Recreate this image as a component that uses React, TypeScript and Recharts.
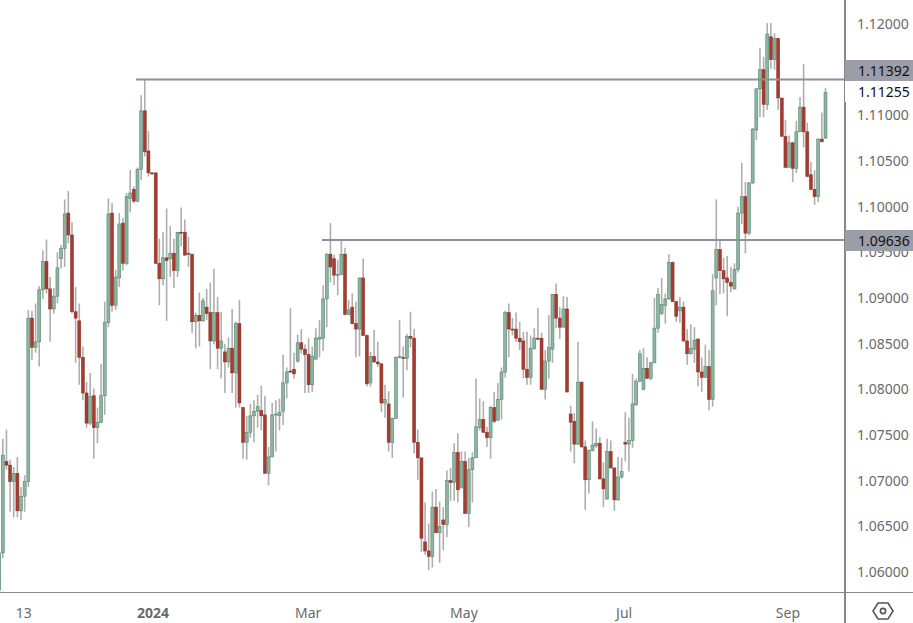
import React from 'react';
import { ComposedChart, Bar, XAxis, YAxis, ReferenceLine } from 'recharts';

const opens = [
  1.0580,1.0621,1.0721,1.0717,1.0699,1.0708,1.0667,1.0683,1.0699,1.0878,
  1.0846,1.0852,1.0909,1.0940,1.0910,1.0888,1.0902,1.0943,1.0954,1.0993,
  1.0969,1.0885,1.0875,1.0835,1.0796,1.0763,1.0793,1.0758,1.0764,1.0793,
  1.0873,1.0993,1.0892,1.0922,1.0982,1.0938,1.1009,1.1019,1.1006,1.1041,
  1.1105,1.1061,1.1037,1.1037,1.0938,1.0921,1.0944,1.0943,1.0949,1.0930,
  1.0972,1.0972,1.0949,1.0948,1.0874,1.0881,1.0875,1.0890,1.0884,1.0853,
  1.0884,1.0845,1.0841,1.0830,1.0845,1.0818,1.0872,1.0780,1.0742,1.0753,
  1.0771,1.0776,1.0777,1.0772,1.0708,1.0726,1.0772,1.0771,1.0776,1.0807,
  1.0820,1.0822,1.0831,1.0851,1.0844,1.0838,1.0805,1.0833,1.0855,1.0856,
  1.0899,1.0948,1.0943,1.0925,1.0926,1.0948,1.0882,1.0890,1.0872,1.0866,
  1.0922,1.0859,1.0807,1.0836,1.0830,1.0828,1.0785,1.0784,1.0742,1.0768,
  1.0835,1.0835,1.0834,1.0858,1.0856,1.0742,1.0725,1.0633,1.0623,1.0617,
  1.0671,1.0643,1.0657,1.0652,1.0700,1.0698,1.0731,1.0692,1.0721,1.0664,
  1.0712,1.0725,1.0758,1.0767,1.0753,1.0747,1.0780,1.0766,1.0789,1.0819,
  1.0884,1.0866,1.0866,1.0856,1.0853,1.0822,1.0813,1.0845,1.0856,1.0856,
  1.0800,1.0831,1.0844,1.0904,1.0878,1.0868,1.0888,1.0773,1.0765,1.0740,
  1.0808,1.0737,1.0701,1.0733,1.0738,1.0741,1.0702,1.0680,1.0732,1.0714,
  1.0679,1.0704,1.0742,1.0740,1.0744,1.0783,1.0809,1.0800,1.0823,1.0812,
  1.0829,1.0867,1.0883,1.0892,1.0899,1.0939,1.0896,1.0886,1.0890,1.0853,
  1.0839,1.0844,1.0855,1.0819,1.0813,1.0825,1.0789,1.0922,1.0953,1.0930,
  1.0922,1.0917,1.0910,1.0931,1.0993,1.1011,1.0971,1.1026,1.1084,1.1129,
  1.1150,1.1112,1.1186,1.1161,1.1184,1.1119,1.1077,1.1043,1.1070,1.1042,
  1.1082,1.1109,1.1082,1.1035,1.1019,1.1011,1.1074,1.1075,
];

const highs = [
  1.0622,1.0746,1.0756,1.0723,1.0715,1.0726,1.0693,1.0706,1.0887,1.0886,
  1.0894,1.0913,1.0952,1.0964,1.0923,1.0911,1.0950,1.0958,1.1008,1.1017,
  1.0983,1.0912,1.0894,1.0847,1.0808,1.0818,1.0801,1.0780,1.0828,1.0896,
  1.1009,1.1004,1.0931,1.0993,1.0988,1.1015,1.1040,1.1022,1.1043,1.1122,
  1.1140,1.1083,1.1038,1.1038,1.0965,1.0972,1.0998,1.0979,1.0965,1.0972,
  1.0999,1.0986,1.0967,1.0948,1.0884,1.0906,1.0900,1.0910,1.0917,1.0932,
  1.0901,1.0885,1.0850,1.0857,1.0888,1.0874,1.0898,1.0781,1.0771,1.0784,
  1.0788,1.0794,1.0804,1.0793,1.0737,1.0785,1.0788,1.0790,1.0838,1.0824,
  1.0889,1.0840,1.0860,1.0866,1.0849,1.0856,1.0847,1.0867,1.0876,1.0914,
  1.0949,1.0982,1.0947,1.0942,1.0964,1.0955,1.0898,1.0905,1.0896,1.0922,
  1.0943,1.0860,1.0841,1.0865,1.0852,1.0828,1.0805,1.0798,1.0769,1.0836,
  1.0876,1.0847,1.0861,1.0885,1.0866,1.0756,1.0725,1.0676,1.0653,1.0688,
  1.0691,1.0677,1.0671,1.0711,1.0714,1.0741,1.0752,1.0732,1.0732,1.0725,
  1.0731,1.0812,1.0790,1.0787,1.0759,1.0782,1.0797,1.0807,1.0824,1.0886,
  1.0894,1.0878,1.0884,1.0874,1.0863,1.0863,1.0859,1.0867,1.0889,1.0862,
  1.0843,1.0881,1.0904,1.0916,1.0890,1.0902,1.0901,1.0782,1.0774,1.0852,
  1.0808,1.0744,1.0734,1.0765,1.0757,1.0748,1.0720,1.0746,1.0744,1.0714,
  1.0726,1.0725,1.0775,1.0769,1.0817,1.0812,1.0843,1.0845,1.0835,1.0830,
  1.0900,1.0911,1.0922,1.0905,1.0948,1.0940,1.0897,1.0901,1.0896,1.0866,
  1.0871,1.0868,1.0856,1.0835,1.0849,1.0843,1.0926,1.1008,1.0963,1.0944,
  1.0946,1.0934,1.0938,1.1000,1.1048,1.1027,1.1027,1.1086,1.1130,1.1174,
  1.1164,1.1201,1.1201,1.1190,1.1185,1.1119,1.1095,1.1078,1.1071,1.1094,
  1.1120,1.1156,1.1092,1.1049,1.1040,1.1075,1.1103,1.1130,
];

const lows = [
  1.0578,1.0615,1.0712,1.0666,1.0660,1.0660,1.0657,1.0666,1.0693,1.0832,
  1.0840,1.0825,1.0899,1.0905,1.0852,1.0883,1.0894,1.0932,1.0934,1.0960,
  1.0883,1.0829,1.0805,1.0788,1.0758,1.0761,1.0724,1.0741,1.0763,1.0772,
  1.0868,1.0885,1.0887,1.0912,1.0930,1.0936,1.0994,1.1004,1.1005,1.1029,
  1.1055,1.1033,1.1035,1.0937,1.0892,1.0914,1.0875,1.0923,1.0911,1.0923,
  1.0957,1.0946,1.0934,1.0862,1.0845,1.0847,1.0874,1.0876,1.0822,1.0849,
  1.0822,1.0812,1.0796,1.0824,1.0796,1.0780,1.0780,1.0724,1.0723,1.0747,
  1.0742,1.0758,1.0755,1.0708,1.0695,1.0726,1.0732,1.0755,1.0761,1.0790,
  1.0818,1.0812,1.0829,1.0839,1.0796,1.0796,1.0797,1.0833,1.0835,1.0842,
  1.0868,1.0917,1.0914,1.0903,1.0925,1.0881,1.0881,1.0871,1.0835,1.0836,
  1.0858,1.0803,1.0803,1.0829,1.0825,1.0775,1.0769,1.0732,1.0725,1.0768,
  1.0834,1.0791,1.0821,1.0846,1.0730,1.0701,1.0622,1.0619,1.0602,1.0605,
  1.0643,1.0610,1.0624,1.0638,1.0678,1.0678,1.0676,1.0692,1.0664,1.0649,
  1.0676,1.0725,1.0755,1.0752,1.0737,1.0724,1.0763,1.0766,1.0767,1.0813,
  1.0835,1.0859,1.0852,1.0843,1.0812,1.0805,1.0805,1.0843,1.0854,1.0800,
  1.0789,1.0812,1.0829,1.0867,1.0855,1.0868,1.0797,1.0732,1.0719,1.0739,
  1.0736,1.0668,1.0686,1.0732,1.0736,1.0701,1.0671,1.0679,1.0713,1.0667,
  1.0678,1.0702,1.0721,1.0710,1.0736,1.0782,1.0808,1.0799,1.0812,1.0810,
  1.0829,1.0862,1.0881,1.0872,1.0898,1.0896,1.0874,1.0873,1.0852,1.0827,
  1.0838,1.0829,1.0803,1.0797,1.0813,1.0777,1.0781,1.0892,1.0904,1.0905,
  1.0880,1.0906,1.0909,1.0928,1.0981,1.0949,1.0969,1.1025,1.1073,1.1098,
  1.1098,1.1106,1.1151,1.1150,1.1106,1.1077,1.1043,1.1043,1.1027,1.1037,
  1.1082,1.1065,1.1033,1.1018,1.1002,1.1005,1.1071,1.1075,
];

const closes = [
  1.0621,1.0728,1.0717,1.0699,1.0708,1.0667,1.0683,1.0699,1.0878,1.0846,
  1.0852,1.0909,1.0940,1.0910,1.0888,1.0902,1.0933,1.0954,1.0992,1.0969,
  1.0885,1.0878,1.0835,1.0796,1.0763,1.0792,1.0758,1.0764,1.0793,1.0873,
  1.0992,1.0892,1.0923,1.0981,1.0938,1.1011,1.1015,1.1006,1.1041,1.1105,
  1.1060,1.1037,1.1036,1.0938,1.0921,1.0944,1.0941,1.0949,1.0930,1.0972,
  1.0971,1.0947,1.0948,1.0874,1.0881,1.0875,1.0897,1.0883,1.0853,1.0884,
  1.0845,1.0853,1.0830,1.0845,1.0818,1.0872,1.0785,1.0742,1.0753,1.0771,
  1.0776,1.0781,1.0771,1.0708,1.0726,1.0772,1.0773,1.0775,1.0807,1.0819,
  1.0819,1.0817,1.0851,1.0844,1.0838,1.0805,1.0836,1.0856,1.0857,1.0899,
  1.0948,1.0934,1.0925,1.0926,1.0948,1.0882,1.0887,1.0872,1.0866,1.0922,
  1.0859,1.0806,1.0836,1.0830,1.0828,1.0785,1.0789,1.0742,1.0768,1.0835,
  1.0836,1.0834,1.0858,1.0856,1.0742,1.0725,1.0637,1.0623,1.0617,1.0671,
  1.0643,1.0650,1.0652,1.0700,1.0698,1.0731,1.0690,1.0721,1.0664,1.0712,
  1.0725,1.0759,1.0767,1.0753,1.0747,1.0780,1.0765,1.0789,1.0819,1.0884,
  1.0866,1.0865,1.0856,1.0852,1.0822,1.0813,1.0845,1.0856,1.0855,1.0800,
  1.0831,1.0846,1.0904,1.0878,1.0868,1.0888,1.0797,1.0764,1.0740,1.0808,
  1.0737,1.0701,1.0733,1.0739,1.0741,1.0702,1.0691,1.0732,1.0714,1.0679,
  1.0704,1.0710,1.0740,1.0744,1.0784,1.0809,1.0839,1.0823,1.0812,1.0829,
  1.0867,1.0904,1.0893,1.0899,1.0939,1.0896,1.0880,1.0890,1.0853,1.0839,
  1.0845,1.0854,1.0819,1.0813,1.0825,1.0789,1.0908,1.0953,1.0930,1.0921,
  1.0917,1.0913,1.0931,1.0993,1.1011,1.0971,1.1026,1.1085,1.1129,1.1150,
  1.1112,1.1189,1.1161,1.1184,1.1119,1.1077,1.1043,1.1070,1.1042,1.1082,
  1.1109,1.1082,1.1033,1.1019,1.1011,1.1074,1.1071,1.1125,
];

const priceTicks = [1.12, 1.11, 1.105, 1.1, 1.095, 1.09, 1.085, 1.08, 1.075, 1.07, 1.065, 1.06];
const timeTicks = [6.7, 42.2, 84.8, 127.6, 171.6, 216.6];
const timeLabels = ['13', '2024', 'Mar', 'May', 'Jul', 'Sep'];
const levelHigh = 1.11392;
const levelLow = 1.09636;
const levelHighStart = 37.5;
const levelLowStart = 88.6;

const data = opens.map((open, i) => ({ i, open, high: highs[i], low: lows[i], close: closes[i] }));

const FONT = '"Noto Sans", sans-serif';
const UP_FILL = '#8fb3a1';
const UP_EDGE = '#3e7a5d';
const DOWN_FILL = '#a93b2e';
const DOWN_EDGE = '#7c2a20';

// body and wick both come from the bar's own low-high box, so the scale stays recharts'
const Candle = (props: any) => {
  const { x, y, width, height, payload } = props;
  const top = Math.min(y, y + height);
  const span = Math.abs(height);
  const ppu = span / (payload.high - payload.low);
  const cx = x + width / 2;
  const up = payload.close >= payload.open;
  const y1 = top + (payload.high - Math.max(payload.open, payload.close)) * ppu;
  const y2 = top + (payload.high - Math.min(payload.open, payload.close)) * ppu;
  return (
    <g>
      <line x1={cx} x2={cx} y1={top} y2={top + span} stroke="#aeaeae" strokeWidth={1.6} />
      <rect
        x={cx - 1.5}
        y={y1}
        width={3}
        height={Math.max(y2 - y1, 1)}
        fill={up ? UP_FILL : DOWN_FILL}
        stroke={up ? UP_EDGE : DOWN_EDGE}
        strokeWidth={0.6}
        strokeOpacity={0.8}
      />
    </g>
  );
};

const TimeTick = (props: any) => {
  const { x, y, index } = props;
  const label = timeLabels[index];
  return (
    <text
      x={x}
      y={y}
      textAnchor="middle"
      dominantBaseline="central"
      fontFamily={FONT}
      fontSize={14}
      fontWeight={label === '2024' ? 700 : 400}
      fill="#6a6a6a"
    >
      {label}
    </text>
  );
};

const boxStyle: React.CSSProperties = {
  position: 'absolute',
  left: 845,
  width: 68,
  height: 21,
  background: '#9c9ea7',
  color: '#111',
  fontFamily: FONT,
  fontSize: 14,
  lineHeight: '21px',
  paddingLeft: 13,
  boxSizing: 'border-box',
};

export default function App() {
  return (
    <div style={{ position: 'absolute', left: 0, top: 0, width: 913, height: 623, background: '#fff', overflow: 'hidden' }}>
      <ComposedChart
        width={913}
        height={623}
        data={data}
        margin={{ top: 0, right: 0, bottom: 0, left: -0.5 }}
      >
        <XAxis
          dataKey="i"
          type="number"
          domain={[0, 232]}
          ticks={timeTicks}
          interval={0}
          height={31}
          axisLine={false}
          tickLine={false}
          tick={<TimeTick />}
          tickMargin={14}
        />
        <YAxis
          orientation="right"
          width={69}
          domain={[1.05781, 1.12263]}
          allowDataOverflow
          ticks={priceTicks}
          interval={0}
          axisLine={false}
          tickLine={false}
          tickMargin={7}
          tickFormatter={(v: number) => v.toFixed(5)}
          tick={{ fontFamily: FONT, fontSize: 14, fill: '#6a6a6a', textAnchor: 'start' }}
        />
        <Bar
          dataKey={(d: any) => [d.low, d.high]}
          barSize={3}
          shape={<Candle />}
          isAnimationActive={false}
        />
        <ReferenceLine
          segment={[{ x: levelHighStart, y: levelHigh }, { x: 232, y: levelHigh }]}
          stroke="#8e909a"
          strokeWidth={2}
        />
        <ReferenceLine
          segment={[{ x: levelLowStart, y: levelLow }, { x: 232, y: levelLow }]}
          stroke="#8e909a"
          strokeWidth={2}
        />
      </ComposedChart>

      <div style={{ position: 'absolute', left: 844, top: 0, width: 1.5, height: 623, background: '#85878c' }} />
      <div style={{ position: 'absolute', left: 0, top: 591.5, width: 913, height: 1.5, background: '#85878c' }} />

      <div style={{ ...boxStyle, top: 60 }}>1.11392</div>
      <div style={{ ...boxStyle, top: 81, background: '#fff' }}>1.11255</div>
      <div style={{ ...boxStyle, top: 230 }}>1.09636</div>

      <svg style={{ position: 'absolute', left: 872, top: 600 }} width={22} height={22} viewBox="0 0 22 22">
        <path d="M6 3 H16 L21 11 L16 19 H6 L1 11 Z" fill="none" stroke="#555" strokeWidth={1.6} />
        <circle cx={11} cy={11} r={2.6} fill="none" stroke="#555" strokeWidth={1.6} />
      </svg>
    </div>
  );
}
